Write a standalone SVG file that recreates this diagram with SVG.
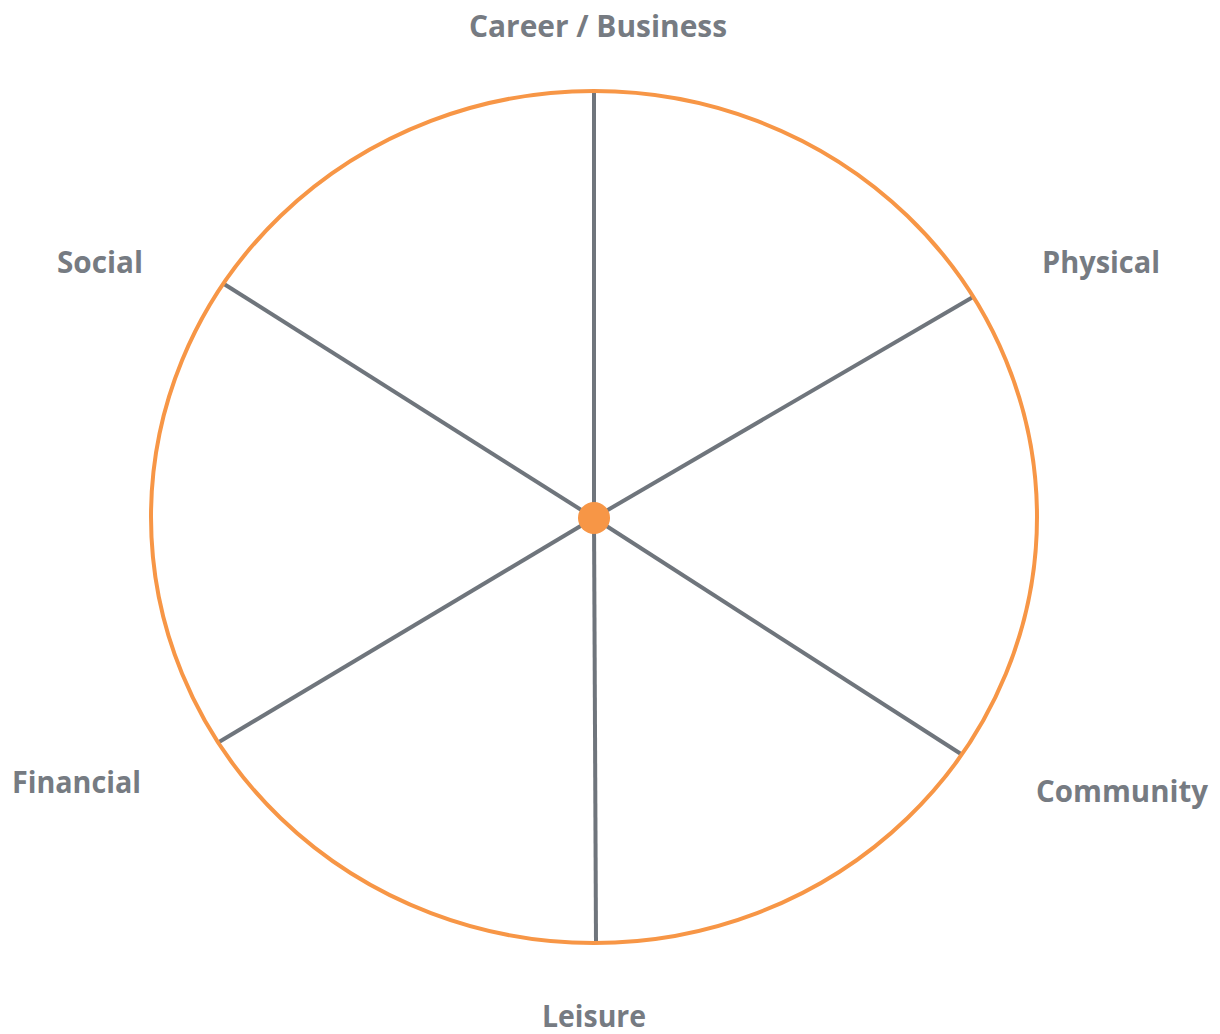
<svg xmlns="http://www.w3.org/2000/svg" width="1220" height="1034" viewBox="0 0 1220 1034">
<style>
.lbl{font-family:"Open Sans","Liberation Sans",sans-serif;font-weight:700;font-size:31px;fill:#767b82}
.spoke{stroke:#6f757c;stroke-width:4;fill:none}
</style>
<rect width="1220" height="1034" fill="#ffffff"/>
<g id="connectors">
<line class="spoke" x1="594" y1="92" x2="594" y2="518"/>
<line class="spoke" x1="596" y1="942" x2="594" y2="518"/>
<line class="spoke" x1="973" y1="297" x2="594" y2="518"/>
<line class="spoke" x1="961" y1="754" x2="594" y2="518"/>
<line class="spoke" x1="219" y1="742" x2="594" y2="518"/>
<line class="spoke" x1="224" y1="284" x2="594" y2="518"/>
</g>
<g id="wheel">
<ellipse cx="594" cy="517" rx="443" ry="426" fill="none" stroke="#f79646" stroke-width="4"/>
</g>
<g id="hub">
<circle cx="594" cy="518" r="16" fill="#f79646"/>
</g>
<g id="career"><text class="lbl" x="469" y="37" textLength="258" lengthAdjust="spacingAndGlyphs">Career / Business</text></g>
<g id="social"><text class="lbl" x="57" y="273" textLength="86" lengthAdjust="spacingAndGlyphs">Social</text></g>
<g id="physical"><text class="lbl" x="1042" y="273" textLength="118" lengthAdjust="spacingAndGlyphs">Physical</text></g>
<g id="financial"><text class="lbl" x="12" y="793" textLength="129" lengthAdjust="spacingAndGlyphs">Financial</text></g>
<g id="community"><text class="lbl" x="1036" y="802" textLength="172" lengthAdjust="spacingAndGlyphs">Community</text></g>
<g id="leisure"><text class="lbl" x="542" y="1027" textLength="104" lengthAdjust="spacingAndGlyphs">Leisure</text></g>
</svg>
